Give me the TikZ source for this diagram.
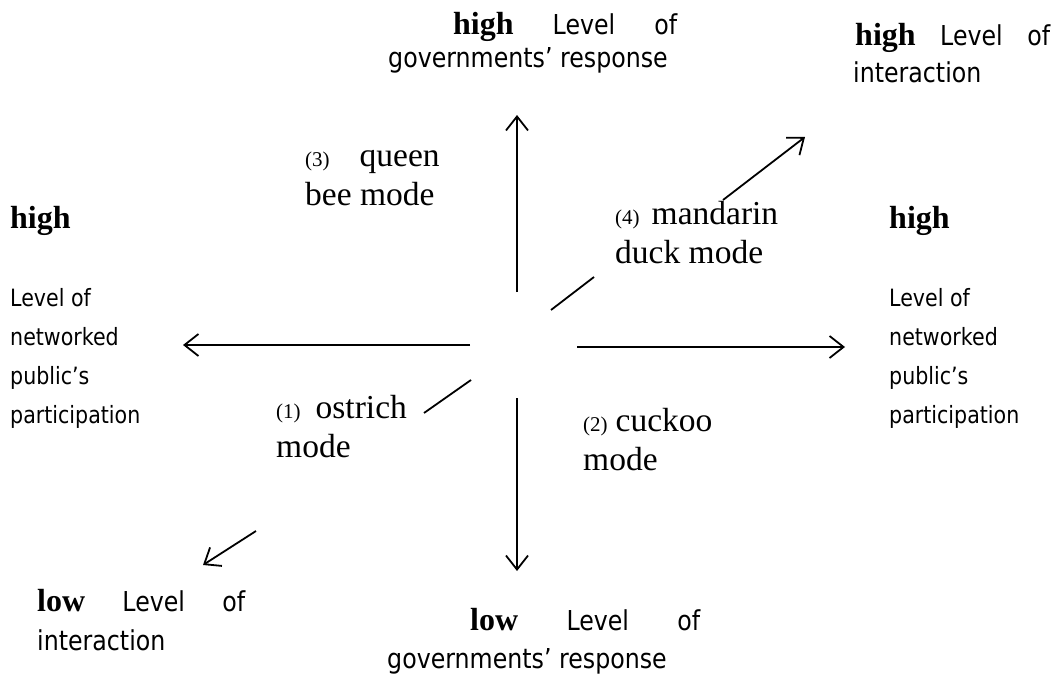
\documentclass[tikz,border=0pt]{standalone}
\usepackage{fontspec}
\setmainfont{Liberation Serif}
\newfontfamily\lvlfont[FakeStretch=0.865]{DejaVu Sans}
\usetikzlibrary{arrows.meta}

\newcommand{\pole}[1]{{\rmfamily\bfseries\fontsize{32}{32}\selectfont #1}}
\newcommand{\modeno}[1]{{\rmfamily\fontsize{21}{21}\selectfont #1}}

\tikzset{
  axisarrow/.style={line width=1.8pt, -{Straight Barb[length=14pt,width=22pt,line width=1.8pt]}},
  axisline/.style={line width=1.8pt},
  toplbl/.style={anchor=base west, inner sep=0pt, align=left, font=\lvlfont\fontsize{27.4}{33}\selectfont},
  sidelbl/.style={anchor=base west, inner sep=0pt, align=left, font=\lvlfont\fontsize{23.8}{39}\selectfont},
  modelbl/.style={anchor=base west, inner sep=0pt, align=left, font=\rmfamily\fontsize{33.5}{39}\selectfont},
}

\begin{document}
\begin{tikzpicture}[x=1pt,y=-1pt]
    \useasboundingbox (0,0) rectangle (1058,677);

        % Draw the level labels (placed at the baseline of their last line)
    \node[toplbl] (gov-high) at (388,68) {\hspace*{65pt}\makebox[224pt][s]{\pole{high} Level of}\\ governments’ response};
    \node[toplbl, font=\lvlfont\fontsize{27.4}{38}\selectfont] (int-high) at (853,83) {\hspace*{2pt}\makebox[195pt][s]{\pole{high} Level of}\\ interaction};
    \node[sidelbl] (par-left) at (10,423) {\pole{high}\\[39pt] Level of\\ networked\\ public’s\\ participation};
    \node[sidelbl] (par-right) at (889,423) {\pole{high}\\[39pt] Level of\\ networked\\ public’s\\ participation};
    \node[toplbl, font=\lvlfont\fontsize{27.4}{39}\selectfont] (int-low) at (37,650) {\makebox[208pt][s]{\pole{low} Level of}\\ interaction};
    \node[toplbl, font=\lvlfont\fontsize{27.4}{38}\selectfont] (gov-low) at (387,668) {\hspace*{83pt}\makebox[230pt][s]{\pole{low} Level of}\\ governments’ response};

        % Draw the mode labels
    \node[modelbl] (queen) at (305,205) {\modeno{(3)}\hspace{30pt}queen\\ bee mode};
    \node[modelbl] (mandarin) at (615,263) {\modeno{(4)}\hspace{12pt}mandarin\\ duck mode};
    \node[modelbl] (ostrich) at (276,457) {\modeno{(1)}\hspace{15pt}ostrich\\ mode};
    \node[modelbl] (cuckoo) at (583,470) {\modeno{(2)}\hspace{8pt}cuckoo\\ mode};

        % Ends of the axes
    \coordinate (up0) at (517,292);
    \coordinate (up1) at (517,115);
    \coordinate (dn0) at (517,398);
    \coordinate (dn1) at (517,571);
    \coordinate (lt0) at (470,345);
    \coordinate (lt1) at (183,345);
    \coordinate (rt0) at (577,347);
    \coordinate (rt1) at (845,347);
    \coordinate (ne0) at (551,310);
    \coordinate (ne1) at (594,277);
    \coordinate (ne2) at (723,200);
    \coordinate (ne3) at (805,137);
    \coordinate (sw0) at (471,380);
    \coordinate (sw1) at (424,413);
    \coordinate (sw2) at (256,531);
    \coordinate (sw3) at (203,565);

        % Draw the axes
    \draw[axisarrow] (up0) -- (up1);
    \draw[axisarrow] (dn0) -- (dn1);
    \draw[axisarrow] (lt0) -- (lt1);
    \draw[axisarrow] (rt0) -- (rt1);
    \draw[axisline] (ne0) -- (ne1);
    \draw[axisarrow] (ne2) -- (ne3);
    \draw[axisline] (sw0) -- (sw1);
    \draw[axisarrow] (sw2) -- (sw3);
\end{tikzpicture}
\end{document}
